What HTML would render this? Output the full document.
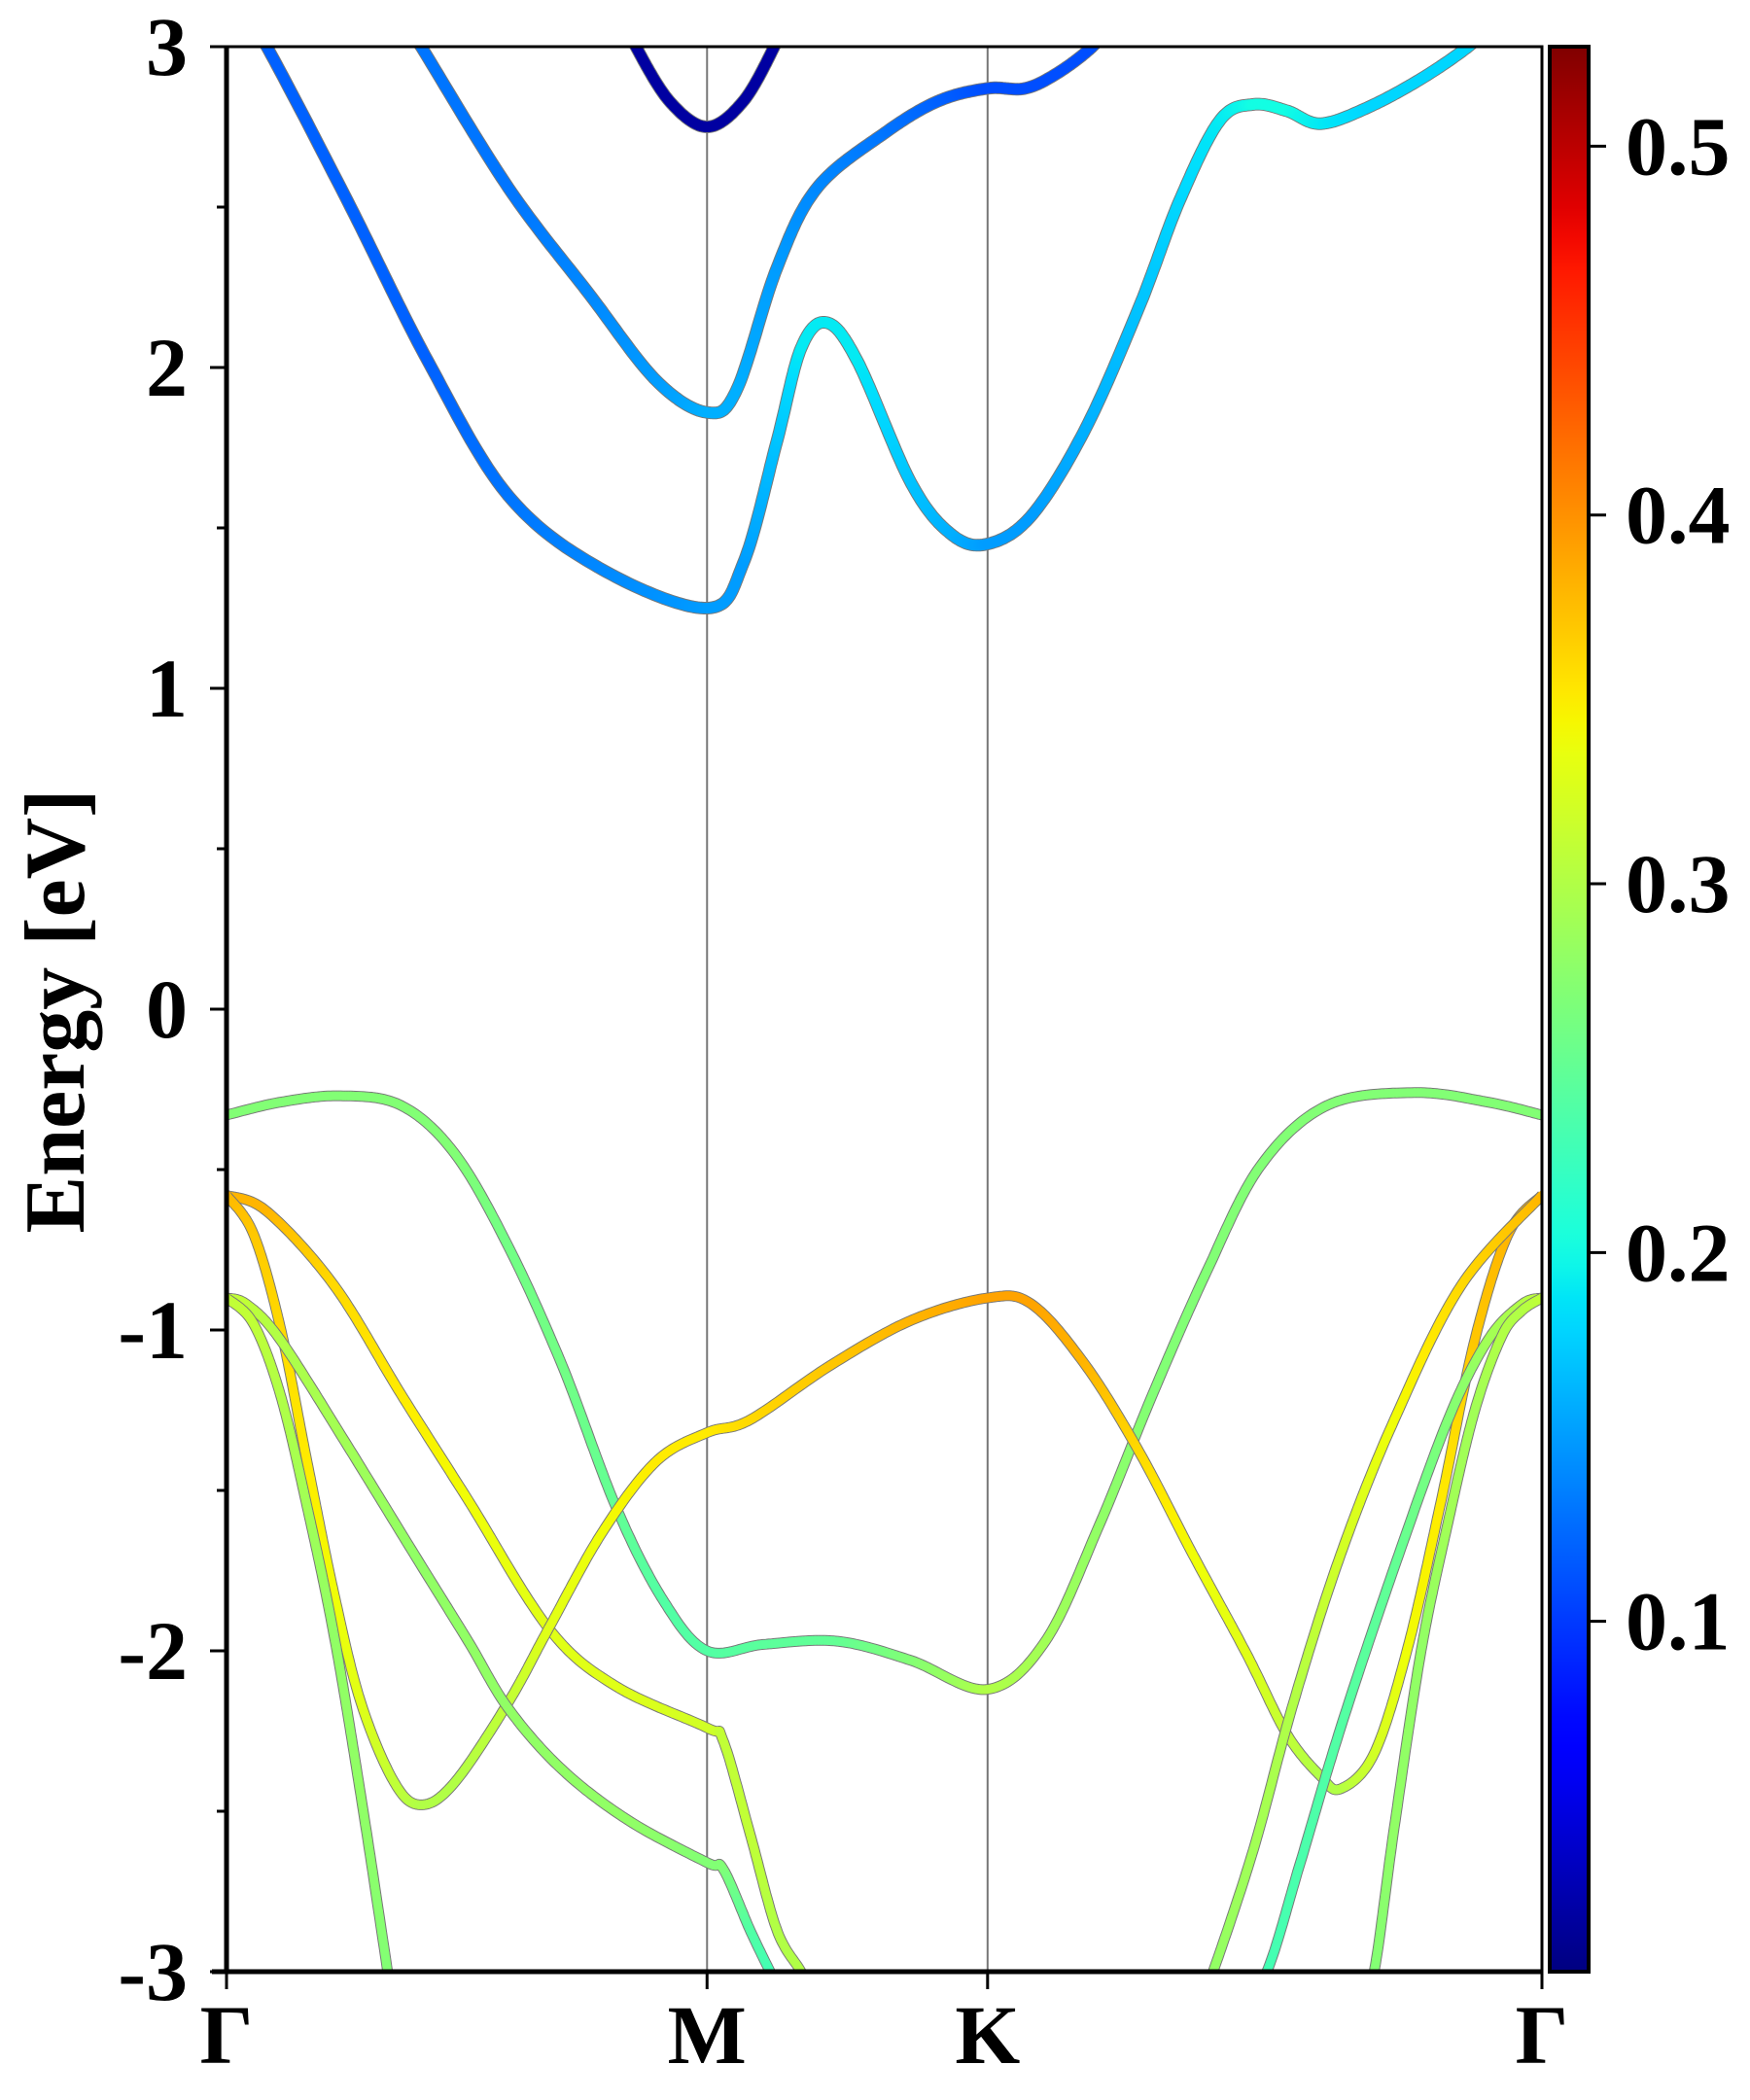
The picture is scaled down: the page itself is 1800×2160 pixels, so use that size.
<!DOCTYPE html>
<html><head><meta charset="utf-8"><style>
html,body{margin:0;padding:0;background:#fff;}
svg{display:block;}
text{font-family:"Liberation Serif",serif;font-weight:bold;fill:#000;}
</style></head><body>
<svg id="chart" width="1800" height="2160" viewBox="0 0 1800 2160" xmlns="http://www.w3.org/2000/svg">
<defs>
<clipPath id="plotclip"><rect x="233" y="48" width="1353" height="1980"/></clipPath>
<linearGradient id="jetgrad" x1="0" y1="1" x2="0" y2="0"></linearGradient>
</defs>
<g id="vlines"></g>
<g id="bands" clip-path="url(#plotclip)"></g>
<g id="axes"></g>
<g id="cbar"></g>
<text x="0" y="0" font-size="88" text-anchor="middle" transform="translate(86,1040) rotate(-90)">Energy [eV]</text>
</svg>
<script>
// ---- data ----
const kMax = 980;
const symLabels = ["Γ","M","K","Γ"];
const symK = [0,358,567,980];
const yTicks = [-3,-2,-1,0,1,2,3];
const yMinor = [-2.5,-1.5,-0.5,0.5,1.5,2.5];
const cbTicks = [0.1,0.2,0.3,0.4,0.5];
const cbMin = 0.005, cbMax = 0.527;

const c1K = [15,30,90,150,210,280,358,385,410,428,447,470,510,540,567,600,640,680,710,740,765,790,815,850,890,925,945];
const c1E = [3.08,3.0,2.52,2.02,1.60,1.37,1.25,1.39,1.77,2.06,2.14,2.02,1.64,1.48,1.45,1.54,1.81,2.19,2.52,2.77,2.82,2.80,2.76,2.81,2.90,3.0,3.08];
const c1W = [0.12,0.12,0.12,0.12,0.13,0.14,0.15,0.15,0.17,0.19,0.19,0.19,0.17,0.16,0.15,0.15,0.16,0.17,0.18,0.19,0.20,0.20,0.19,0.18,0.18,0.18,0.18];

const c2K = [135,145,210,270,320,358,380,410,440,490,530,567,595,620,645,655];
const c2E = [3.06,3.0,2.56,2.23,1.96,1.86,1.93,2.31,2.56,2.73,2.83,2.87,2.87,2.92,3.0,3.06];
const c2W = [0.13,0.13,0.13,0.14,0.15,0.16,0.16,0.15,0.14,0.13,0.12,0.11,0.11,0.11,0.11,0.11];

const c3K = [300,305,330,358,385,408,412];
const c3E = [3.06,3.0,2.83,2.75,2.83,3.0,3.06];
const c3W = [0.02,0.02,0.02,0.02,0.02,0.02,0.02];

const v1K = [0,40,85,130,170,210,250,290,325,358,400,455,510,567,610,650,690,730,770,820,885,940,980];
const v1E = [-0.33,-0.29,-0.27,-0.30,-0.45,-0.74,-1.11,-1.55,-1.84,-2.00,-1.98,-1.97,-2.03,-2.12,-1.97,-1.61,-1.20,-0.82,-0.49,-0.30,-0.26,-0.29,-0.33];
const v1W = [0.27,0.27,0.27,0.27,0.27,0.26,0.26,0.25,0.24,0.24,0.245,0.25,0.27,0.30,0.29,0.28,0.27,0.27,0.27,0.27,0.27,0.27,0.27];

const v2K = [0,30,80,130,180,240,290,358,370,390,410,428,440];
const v2E = [-0.58,-0.63,-0.86,-1.20,-1.53,-1.93,-2.11,-2.24,-2.28,-2.57,-2.87,-3.0,-3.1];
const v2W = [0.38,0.38,0.36,0.35,0.34,0.33,0.33,0.32,0.31,0.31,0.30,0.30,0.30];

const v3K = [0,20,40,60,80,100,125,145,170,210,240,280,320,358,390,450,510,567,600,640,680,720,760,790,815,830,855,880,905,930,955,980];
const v3E = [-0.58,-0.70,-0.99,-1.41,-1.82,-2.16,-2.41,-2.48,-2.41,-2.16,-1.93,-1.63,-1.41,-1.32,-1.28,-1.11,-0.97,-0.90,-0.92,-1.11,-1.38,-1.70,-2.01,-2.26,-2.39,-2.43,-2.32,-1.99,-1.53,-1.03,-0.70,-0.58];
const v3W = [0.38,0.37,0.36,0.35,0.34,0.33,0.31,0.30,0.30,0.31,0.33,0.34,0.35,0.35,0.36,0.37,0.38,0.39,0.39,0.38,0.36,0.34,0.33,0.31,0.30,0.30,0.32,0.34,0.35,0.37,0.38,0.38];

const v4K = [0,15,40,90,140,180,210,250,300,358,370,390,405,415];
const v4E = [-0.90,-0.92,-1.03,-1.36,-1.70,-1.97,-2.18,-2.37,-2.53,-2.66,-2.68,-2.87,-3.0,-3.08];
const v4W = [0.31,0.31,0.30,0.29,0.28,0.28,0.28,0.28,0.28,0.27,0.27,0.24,0.23,0.23];

const v5K = [0,20,40,60,80,100,120,130];
const v5E = [-0.90,-0.98,-1.20,-1.55,-1.95,-2.45,-3.0,-3.3];
const v5W = [0.31,0.31,0.30,0.29,0.28,0.28,0.27,0.27];

const v6K = [725,735,765,795,830,870,920,980];
const v6E = [-3.1,-3.0,-2.62,-2.16,-1.70,-1.28,-0.86,-0.58];
const v6W = [0.28,0.28,0.29,0.30,0.32,0.34,0.36,0.38];

const v7K = [755,775,800,830,870,910,940,965,980];
const v7E = [-3.1,-3.0,-2.66,-2.24,-1.74,-1.28,-1.03,-0.92,-0.90];
const v7W = [0.23,0.23,0.235,0.24,0.25,0.27,0.29,0.30,0.31];

const v8K = [845,855,870,890,910,930,950,965,980];
const v8E = [-3.1,-3.0,-2.55,-2.0,-1.6,-1.25,-1.02,-0.94,-0.90];
const v8W = [0.27,0.27,0.28,0.28,0.29,0.29,0.30,0.30,0.31];

const bandList = [
 {name:"band-c1",k:c1K,e:c1E,w:c1W,lw:11},
 {name:"band-c2",k:c2K,e:c2E,w:c2W,lw:11},
 {name:"band-c3",k:c3K,e:c3E,w:c3W,lw:11},
 {name:"band-v1",k:v1K,e:v1E,w:v1W,lw:9},
 {name:"band-v2",k:v2K,e:v2E,w:v2W,lw:9},
 {name:"band-v3",k:v3K,e:v3E,w:v3W,lw:9},
 {name:"band-v4",k:v4K,e:v4E,w:v4W,lw:9},
 {name:"band-v5",k:v5K,e:v5E,w:v5W,lw:9},
 {name:"band-v6",k:v6K,e:v6E,w:v6W,lw:9},
 {name:"band-v7",k:v7K,e:v7E,w:v7W,lw:9},
 {name:"band-v8",k:v8K,e:v8E,w:v8W,lw:9}
];

// ---- layout ----
const L=233,R=1586,T=48,B=2028;
const xs = k => L + k/kMax*(R-L);
const ys = e => B - (e+3)/6*(B-T);
const NS="http://www.w3.org/2000/svg";
function mk(tag, attrs, parent){const el=document.createElementNS(NS,tag);for(const a in attrs)el.setAttribute(a,attrs[a]);parent.appendChild(el);return el;}
function seg(t, pts){
  for(let i=0;i<pts.length-1;i++){
    if(t<=pts[i+1][0]){const a=pts[i],b=pts[i+1];return a[1]+(b[1]-a[1])*(t-a[0])/(b[0]-a[0]);}
  }
  return pts[pts.length-1][1];
}
const jR=[[0,0],[0.35,0],[0.66,1],[0.89,1],[1,0.5]];
const jG=[[0,0],[0.125,0],[0.375,1],[0.64,1],[0.91,0],[1,0]];
const jB=[[0,0.5],[0.11,1],[0.34,1],[0.65,0],[1,0]];
function jet(v){
  let t=(v-cbMin)/(cbMax-cbMin); t=Math.max(0,Math.min(1,t));
  const c=x=>Math.round(255*Math.max(0,Math.min(1,x)));
  return `rgb(${c(seg(t,jR))},${c(seg(t,jG))},${c(seg(t,jB))})`;
}

// vertical lines
const vl=document.getElementById('vlines');
[1,2].forEach(i=>{
  const ln=mk('line',{x1:xs(symK[i]),x2:xs(symK[i]),y1:T,y2:B,stroke:'#777','stroke-width':2},vl);
  
  
});

// bands
const bg=document.getElementById('bands');
bandList.forEach(b=>{
  const g=mk('g',{},bg);
  
  
  const P=b.k.map((k,i)=>[xs(k),ys(b.e[i]),b.w[i]]);
  const pts=[];
  for(let i=0;i<P.length-1;i++){
    const p0=P[Math.max(0,i-1)],p1=P[i],p2=P[i+1],p3=P[Math.min(P.length-1,i+2)];
    const n=24;
    for(let j=0;j<n;j++){
      const t=j/n,t2=t*t,t3=t2*t;
      const f=(a,b2,c,d)=>0.5*((2*b2)+(-a+c)*t+(2*a-5*b2+4*c-d)*t2+(-a+3*b2-3*c+d)*t3);
      pts.push([f(p0[0],p1[0],p2[0],p3[0]),f(p0[1],p1[1],p2[1],p3[1]),p1[2]+(p2[2]-p1[2])*t]);
    }
  }
  pts.push(P[P.length-1]);
  const d='M'+pts.map(p=>p[0].toFixed(1)+','+p[1].toFixed(1)).join('L');
  mk('path',{d:d,fill:'none',stroke:'#777','stroke-width':b.lw+2,'stroke-linejoin':'round'},g);
  for(let i=0;i<pts.length-1;i++){
    mk('line',{x1:pts[i][0].toFixed(1),y1:pts[i][1].toFixed(1),x2:pts[i+1][0].toFixed(1),y2:pts[i+1][1].toFixed(1),stroke:jet(pts[i][2]),'stroke-width':b.lw,'stroke-linecap':'round'},g);
  }
});

// axes
const ax=document.getElementById('axes');
const frame=mk('rect',{x:L,y:T,width:R-L,height:B-T,fill:'none',stroke:'#000','stroke-width':3},ax);


mk('line',{x1:L,y1:T,x2:L,y2:B,stroke:'#000','stroke-width':5},ax);
mk('line',{x1:L-15,y1:B,x2:R,y2:B,stroke:'#000','stroke-width':5},ax);
yTicks.forEach(v=>{
  mk('line',{x1:L-17,x2:L,y1:ys(v),y2:ys(v),stroke:'#000','stroke-width':3},ax);
  const t=mk('text',{x:193,y:ys(v)+29,'font-size':86,'text-anchor':'end'},ax);
  t.textContent=String(v);
  
  
});
yMinor.forEach(v=>{
  mk('line',{x1:L-10,x2:L,y1:ys(v),y2:ys(v),stroke:'#000','stroke-width':3},ax);
});
symK.forEach((k,i)=>{
  mk('line',{x1:xs(k),x2:xs(k),y1:B,y2:B+18,stroke:'#000','stroke-width':3},ax);
  const t=mk('text',{x:xs(k),y:2122,'font-size':86,'text-anchor':'middle'},ax);
  t.textContent=symLabels[i];
  
  
});

// colorbar
const grad=document.getElementById('jetgrad');
for(let i=0;i<=60;i++){
  const v=cbMin+(cbMax-cbMin)*i/60;
  mk('stop',{offset:(i/60),'stop-color':jet(v)},grad);
}
const cb=document.getElementById('cbar');
const cx0=1594,cx1=1634;
const cys=v=>B-(v-cbMin)/(cbMax-cbMin)*(B-T);
const cr=mk('rect',{x:cx0,y:T,width:cx1-cx0,height:B-T,fill:'url(#jetgrad)',stroke:'#000','stroke-width':4},cb);


cbTicks.forEach(v=>{
  mk('line',{x1:cx1,x2:cx1+18,y1:cys(v),y2:cys(v),stroke:'#000','stroke-width':3},cb);
  const t=mk('text',{x:1672,y:cys(v)+29,'font-size':86},cb);
  t.textContent=v.toFixed(1);
  
  
});
</script>
</body></html>
